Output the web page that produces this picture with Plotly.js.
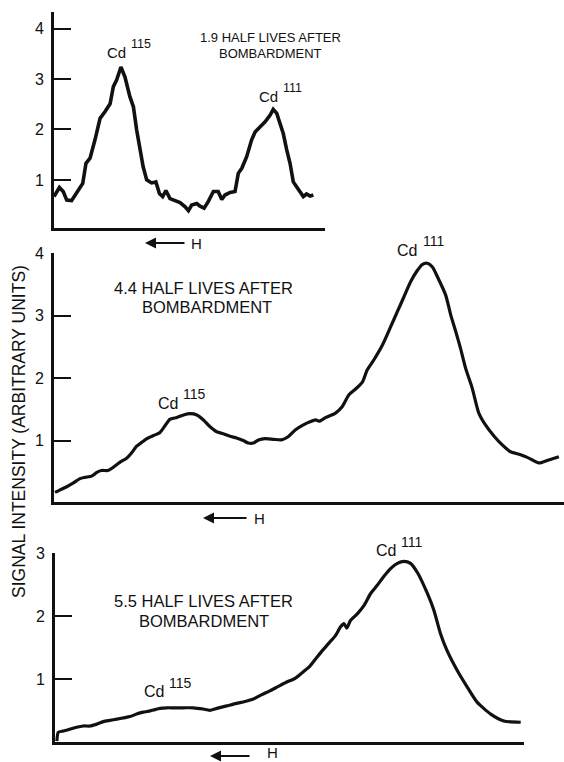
<!DOCTYPE html>
<html>
<head>
<meta charset="utf-8">
<script src="https://cdn.plot.ly/plotly-3.0.1.min.js"></script>
<style>html,body{margin:0;padding:0;background:#fff}#chart{width:564px;height:762px}</style>
</head>
<body>
<div id="chart"></div>
<script>
// Field position (arbitrary units, 0-100 across each trace axis) and signal intensity (arbitrary units)
// Panel 1: 1.9 half lives after bombardment
const h1 = [0,2.0,3.4,4.7,6.5,8.4,10.6,11.8,13.3,15.1,17.0,18.8,20.7,21.9,23.1,24.7,26.2,28.0,29.3,30.5,31.7,32.9,34.2,36.0,37.6,38.9,40.1,41.3,42.8,44.6,46.5,48.3,49.6,50.8,52.7,53.9,55.4,56.9,58.8,60.6,61.9,63.1,65.0,66.8,68.0,69.3,71.1,72.9,74.2,76.0,77.9,79.7,80.9,82.2,83.4,84.6,85.9,87.1,88.3,89.5,90.8,92.0,93.2,94.5,95.7];
const s1 = [0.67,0.85,0.77,0.60,0.59,0.75,0.93,1.33,1.43,1.79,2.22,2.35,2.51,2.85,2.98,3.24,3.04,2.65,2.45,1.99,1.66,1.26,1.00,0.94,0.96,0.73,0.67,0.79,0.63,0.60,0.55,0.47,0.39,0.50,0.53,0.48,0.44,0.57,0.77,0.77,0.61,0.70,0.75,0.77,1.13,1.23,1.46,1.79,1.95,2.05,2.15,2.28,2.40,2.32,2.12,1.92,1.59,1.33,0.96,0.86,0.75,0.67,0.72,0.68,0.70];

// Panel 2: 4.4 half lives after bombardment
const h2 = [0.2,1.2,2.5,3.8,5.1,6.1,7.4,8.4,9.3,10.6,11.6,12.9,14.3,15.2,16.2,17.2,18.2,19.5,20.8,21.8,22.7,24.1,25.4,26.7,28.0,29.3,30.6,31.9,33.2,34.5,35.8,37.1,38.1,39.1,40.1,41.4,43.0,44.6,45.9,47.3,48.9,50.2,
            51.3,52.0,53.3,55.2,56.5,57.8,59.2,60.5,61.4,62.7,64.4,66.0,67.3,68.6,69.9,71.2,72.2,73.2,74.2,75.2,76.8,77.8,78.8,79.7,80.7,82.0,83.3,84.6,86.3,87.9,89.5,91.2,92.8,95.1,96.7,99.0];
const s2 = [0.17,0.21,0.26,0.32,0.39,0.41,0.43,0.49,0.52,0.52,0.57,0.65,0.72,0.80,0.91,0.97,1.03,1.08,1.13,1.24,1.34,1.37,1.41,1.43,1.41,1.33,1.22,1.14,1.11,1.07,1.04,1.00,0.96,0.96,1.01,1.03,1.02,1.01,1.06,1.17,1.25,1.30,
            1.33,1.31,1.37,1.44,1.54,1.73,1.83,1.94,2.13,2.29,2.53,2.82,3.06,3.30,3.54,3.72,3.82,3.84,3.78,3.62,3.33,3.01,2.74,2.48,2.16,1.84,1.44,1.25,1.07,0.93,0.82,0.78,0.73,0.64,0.68,0.74];

// Panel 3: 5.5 half lives after bombardment
const h3 = [0.4,0.7,1.8,3.2,4.6,6.0,7.5,8.9,10.3,11.7,13.2,14.6,16.0,17.4,18.8,20.3,21.3,22.4,23.8,25.2,27.4,29.5,31.6,33.0,34.5,36.6,38.7,40.5,42.3,44.1,45.8,47.6,49.4,51.2,
            52.4,54.2,55.6,57.0,58.4,59.8,60.9,61.6,62.2,63.0,64.5,65.9,67.3,68.7,70.1,71.6,73.0,74.4,75.8,
            77.3,79.4,80.8,82.2,83.6,85.8,87.9,90.0,92.9,95.7,99.3];
const s3 = [0.01,0.15,0.17,0.20,0.23,0.25,0.25,0.28,0.32,0.34,0.36,0.38,0.40,0.44,0.47,0.49,0.51,0.53,0.54,0.54,0.54,0.54,0.52,0.50,0.53,0.57,0.61,0.64,0.68,0.75,0.81,0.88,0.95,1.01,
            1.08,1.19,1.32,1.45,1.57,1.69,1.83,1.88,1.81,1.93,2.04,2.17,2.36,2.49,2.63,2.76,2.84,2.87,2.84,
            2.69,2.36,2.09,1.72,1.45,1.13,0.87,0.63,0.44,0.33,0.31];

const yTicks1 = [1,2,3,4];
const yTicks2 = [1,2,3,4];
const yTicks3 = [1,2,3];
const panelTitles = [["1.9 HALF LIVES AFTER","BOMBARDMENT"],["4.4 HALF LIVES AFTER","BOMBARDMENT"],["5.5 HALF LIVES AFTER","BOMBARDMENT"]];
const yTitle = "SIGNAL INTENSITY (ARBITRARY UNITS)";

const W = 564, H = 762;
const px = x => x / W;
const py = y => 1 - y / H;
const FONT = "Liberation Sans, Arial, sans-serif";
const INK = "#111";

const lineStyle = {color: INK, width: 3.2};
const traces = [
  {x: h1, y: s1, xaxis: "x", yaxis: "y", mode: "lines", line: Object.assign({}, lineStyle, {width: 3.6}), hoverinfo: "skip"},
  {x: h2, y: s2, xaxis: "x2", yaxis: "y2", mode: "lines", line: Object.assign({}, lineStyle, {shape: "spline", smoothing: 0.6}), hoverinfo: "skip"},
  {x: h3, y: s3, xaxis: "x3", yaxis: "y3", mode: "lines", line: Object.assign({}, lineStyle, {shape: "spline", smoothing: 0.6}), hoverinfo: "skip"}
];

function xAx(d0, d1, anchor) {
  return {domain: [px(d0), px(d1)], range: [0, 100], anchor: anchor, showline: true, linecolor: INK, linewidth: 3,
          showticklabels: false, ticks: "", showgrid: false, zeroline: false, fixedrange: true};
}
function yAx(b, t, range, tv, anchor) {
  return {domain: [py(b), py(t)], range: range, anchor: anchor, showline: true, linecolor: INK, linewidth: 3,
          tickvals: tv, ticktext: tv.map(String), ticks: "inside", ticklen: 17, tickwidth: 2, tickcolor: INK,
          ticklabelstandoff: 4,
          tickfont: {family: FONT, size: 16, color: INK}, showgrid: false, zeroline: false, fixedrange: true};
}

const ann = [];
function txt(text, x, y, size, xa) {
  ann.push({text: text, xref: "paper", yref: "paper", x: px(x), y: py(y), xanchor: xa || "center", yanchor: "middle",
            showarrow: false, font: {family: FONT, size: size, color: INK}});
}
function arrowH(headX, tailX, y, hX, hY) {
  ann.push({text: "", xref: "paper", yref: "paper", x: px(headX), y: py(y), axref: "paper", ayref: "paper",
            ax: px(tailX), ay: py(y), showarrow: true, arrowhead: 2, arrowsize: 1.1, arrowwidth: 2, arrowcolor: INK});
  txt("H", hX, hY === undefined ? y : hY, 15);
}

// panel titles
txt(panelTitles[0][0], 270, 38, 13);
txt(panelTitles[0][1], 270, 54, 13);
txt(panelTitles[1][0], 203, 288, 16.5);
txt(panelTitles[1][1], 207, 307, 16.5);
txt(panelTitles[2][0], 203, 601, 16.5);
txt(panelTitles[2][1], 204, 621, 16.5);

// isotope labels
txt("Cd", 128, 53, 15, "right");  txt("115", 129, 44, 12.5, "left");
txt("Cd", 280, 96, 15, "right");  txt("111", 281, 88, 12.5, "left");
txt("Cd", 180, 403, 16, "right"); txt("115", 181, 394, 14, "left");
txt("Cd", 419, 250, 16, "right"); txt("111", 421, 241, 14, "left");
txt("Cd", 166, 691, 16, "right"); txt("115", 167, 683, 14, "left");
txt("Cd", 398, 550, 16, "right"); txt("111", 399, 542, 14, "left");

// field direction arrows
arrowH(145, 186, 243, 196);
arrowH(203, 248, 518, 259);
arrowH(210, 251, 756, 272, 752);

// shared y-axis title
ann.push({text: yTitle, xref: "paper", yref: "paper", x: px(19), y: py(432), xanchor: "center", yanchor: "middle",
          textangle: -90, showarrow: false, font: {family: FONT, size: 17.5, color: INK}});

const layout = {
  width: W, height: H, margin: {l: 0, r: 0, t: 0, b: 0}, paper_bgcolor: "#fff", plot_bgcolor: "rgba(0,0,0,0)",
  showlegend: false,
  xaxis: xAx(54, 325, "y"),
  yaxis: yAx(228.3, 12, [0.04, 4.33], yTicks1, "x"),
  xaxis2: xAx(54, 564, "y2"),
  yaxis2: yAx(501.7, 253.3, [0.02, 4.0], yTicks2, "x2"),
  xaxis3: xAx(55, 524, "y3"),
  yaxis3: yAx(741.7, 553.3, [0, 3.0], yTicks3, "x3"),
  annotations: ann
};

Plotly.newPlot("chart", traces, layout, {staticPlot: true, displayModeBar: false});
</script>
</body>
</html>
